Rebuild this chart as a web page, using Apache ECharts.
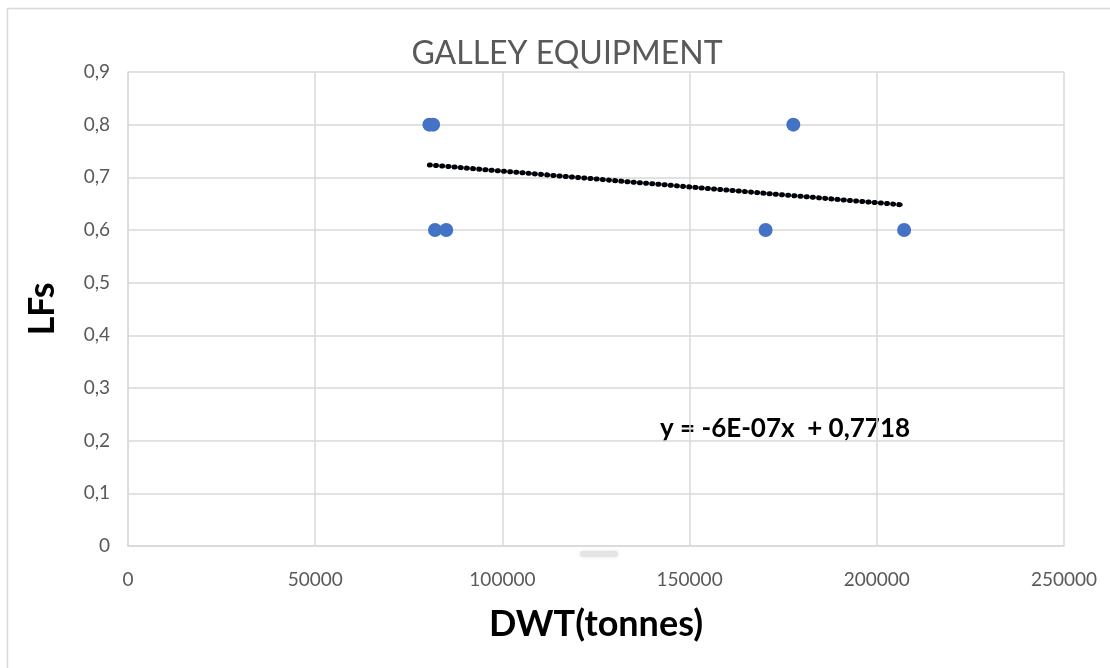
<!DOCTYPE html>
<html>
<head>
<meta charset="utf-8">
<script src="https://cdn.jsdelivr.net/npm/echarts@6/dist/echarts.min.js"></script>
<style>html,body{margin:0;padding:0;background:#fff;}#c{width:1110px;height:668px;}</style>
</head>
<body>
<div id="c"></div>
<script>
const titleText = 'GALLEY EQUIPMENT';
const xAxisName = 'DWT(tonnes)';
const yAxisName = 'LFs';
const dwt = [80500, 81500, 82000, 85000, 170300, 177700, 207300];
const lfs = [0.8, 0.8, 0.6, 0.6, 0.6, 0.8, 0.6];
const trendSlope = -6e-7;
const trendIntercept = 0.7718;
const trendLabel = 'y = -6E-07x  + 0,7718';
const xTicks = [0, 50000, 100000, 150000, 200000, 250000];
const yTicks = [0, 0.1, 0.2, 0.3, 0.4, 0.5, 0.6, 0.7, 0.8, 0.9];

const points = dwt.map((x, i) => [x, lfs[i]]);
const xMin = Math.min(...dwt), xMax = Math.max(...dwt);
const trend = [[xMin, trendIntercept + trendSlope * xMin], [xMax, trendIntercept + trendSlope * xMax]];

const FONT = 'Lato, "Open Sans", sans-serif';
const chart = echarts.init(document.getElementById('c'));
chart.setOption({
  backgroundColor: '#fff',
  animation: false,
  title: {
    text: titleText, left: 562, top: 33, textAlign: 'center',
    textStyle: { fontFamily: FONT, fontSize: 32, fontWeight: 'normal', color: '#595959' }
  },
  grid: { left: 128, right: 46, top: 72, bottom: 122 },
  xAxis: {
    type: 'value', min: 0, max: 250000, interval: 50000,
    name: xAxisName, nameLocation: 'middle', nameGap: 60,
    nameTextStyle: { fontFamily: FONT, fontSize: 36, fontWeight: 'bold', color: '#000' },
    axisLine: { show: true, lineStyle: { color: '#d9d9d9', width: 1.5 } },
    axisTick: { show: false },
    axisLabel: { fontFamily: FONT, fontSize: 19, color: '#595959', margin: 24,
      formatter: v => String(v) },
    splitLine: { show: true, lineStyle: { color: '#d9d9d9', width: 1.5 } }
  },
  yAxis: {
    type: 'value', min: 0, max: 0.9, interval: 0.1,
    name: yAxisName, nameLocation: 'middle', nameGap: 68, nameRotate: 90,
    nameTextStyle: { fontFamily: FONT, fontSize: 36, fontWeight: 'bold', color: '#000' },
    axisLine: { show: true, lineStyle: { color: '#d9d9d9', width: 1.5 } },
    axisTick: { show: false },
    axisLabel: { fontFamily: FONT, fontSize: 19, color: '#595959', margin: 18,
      formatter: v => (Math.round(v * 10) / 10).toString().replace('.', ',') },
    splitLine: { show: true, lineStyle: { color: '#d9d9d9', width: 1.5 } }
  },
  series: [
    {
      type: 'line', data: trend, symbol: 'none', silent: true, z: 3,
      lineStyle: { color: '#4472c4', width: 2.5, type: [4, 2.2] }
    },
    {
      type: 'line', data: trend, symbol: 'none', silent: true, z: 4,
      lineStyle: { color: '#000', width: 5, type: [0.8, 5.4], cap: 'round' }
    },
    {
      type: 'scatter', data: points, symbol: 'circle', symbolSize: 14, z: 5,
      itemStyle: { color: '#4472c4', opacity: 1 }
    }
  ],
  graphic: [
    { type: 'rect', shape: { x: 7.5, y: 8.5, width: 1200, height: 700 },
      style: { fill: 'none', stroke: '#d9d9d9', lineWidth: 1.5 }, z: -10 },
    { type: 'rect', shape: { x: 580, y: 551, width: 38, height: 6, r: 3 },
      style: { fill: '#e4e4e4', shadowBlur: 4, shadowColor: '#e8e8e8' } },
    { type: 'text', left: 660, top: 416,
      style: { text: trendLabel, fontFamily: FONT, fontSize: 26, fontWeight: 'bold', fill: '#000' } }
  ]
});
</script>
</body>
</html>
